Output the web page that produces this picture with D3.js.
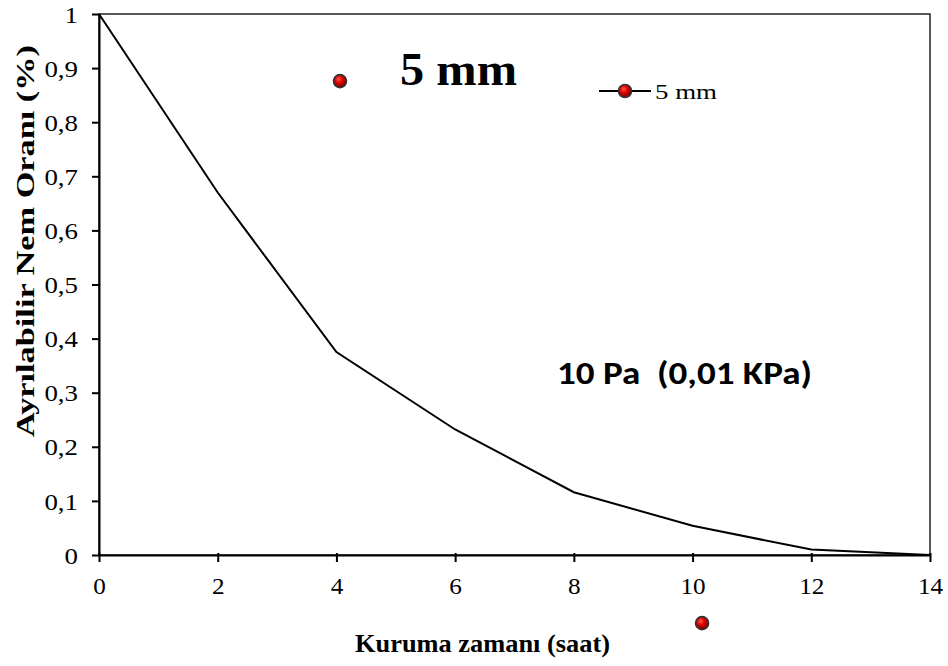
<!DOCTYPE html>
<html><head><meta charset="utf-8">
<script src="https://cdn.jsdelivr.net/npm/d3@7"></script>
<style>body{margin:0;background:#fff}</style>
</head><body>
<script>
const hours = [0, 2, 4, 6, 8, 10, 12, 14];
const moistureRatio = [1, 0.67, 0.375, 0.232, 0.116, 0.054, 0.01, 0];
const xTicks = [0, 2, 4, 6, 8, 10, 12, 14];
const yTicks = [0, 0.1, 0.2, 0.3, 0.4, 0.5, 0.6, 0.7, 0.8, 0.9, 1];
const strayMarkersX = [4.06, 10.16];
const strayMarkersY = [0.876, -0.126];
const seriesName = "5 mm";

const W = 948, H = 666;
const m = {left: 99, top: 14, right: 930, bottom: 555};
const svg = d3.select("body").append("svg").attr("width", W).attr("height", H);
const defs = svg.append("defs");
const g = defs.append("radialGradient").attr("id","ball").attr("cx","40%").attr("cy","35%").attr("r","65%");
g.append("stop").attr("offset","0%").attr("stop-color","#ff5a4a");
g.append("stop").attr("offset","45%").attr("stop-color","#e00000");
g.append("stop").attr("offset","100%").attr("stop-color","#7a0000");

const x = d3.scaleLinear().domain([0,14]).range([m.left, m.right]);
const y = d3.scaleLinear().domain([0,1]).range([m.bottom, m.top]);

// frame
svg.append("rect").attr("x", m.left).attr("y", m.top).attr("width", m.right-m.left).attr("height", m.bottom-m.top)
  .attr("fill","none").attr("stroke","#000").attr("stroke-width",1.3);

const font = "'Liberation Serif','Times New Roman',serif";
const xa = svg.append("g").attr("transform",`translate(0,${m.bottom})`)
  .call(d3.axisBottom(x).tickValues(xTicks).tickSize(7).tickSizeOuter(0).tickFormat(d3.format("d")));
xa.select(".domain").attr("stroke-width",2);
xa.selectAll(".tick line").attr("stroke-width",2).attr("y1",-2);
xa.selectAll("text").attr("font-family",font).attr("font-size",24).attr("y",0).attr("dy",0)
  .attr("transform","translate(0,39) scale(1.05,1)").attr("fill","#000");

const ya = svg.append("g").attr("transform",`translate(${m.left},0)`)
  .call(d3.axisLeft(y).tickValues(yTicks).tickSize(7).tickSizeOuter(0).tickFormat(d => d3.format(".1~f")(d).replace(".",",")));
ya.select(".domain").attr("stroke-width",2);
ya.selectAll(".tick line").attr("stroke-width",2);
ya.selectAll("text").attr("font-family",font).attr("font-size",24).attr("x",0).attr("dy","0.34em")
  .attr("transform","translate(-21,0) scale(1.12,1)").attr("fill","#000");

// line
const data = hours.map((h,i)=>[h, moistureRatio[i]]);
svg.append("path").datum(data).attr("fill","none").attr("stroke","#000").attr("stroke-width",2)
  .attr("d", d3.line().x(d=>x(d[0])).y(d=>y(d[1])));

function marker(cx, cy){
  svg.append("circle").attr("cx",cx).attr("cy",cy).attr("r",6.5)
    .attr("fill","url(#ball)").attr("stroke","#333").attr("stroke-width",1.6);
}
strayMarkersX.forEach((v,i)=>marker(x(v), y(strayMarkersY[i])));

// legend
svg.append("line").attr("x1",599).attr("x2",651).attr("y1",91).attr("y2",91).attr("stroke","#000").attr("stroke-width",2);
marker(625, 91);
svg.append("text").attr("x",655).attr("y",99).attr("font-family",font).attr("font-size",21)
  .attr("textLength",62).attr("lengthAdjust","spacingAndGlyphs").text(seriesName);

// annotations
svg.append("text").attr("x",400).attr("y",85).attr("font-family",font).attr("font-weight","bold").attr("font-size",47)
  .attr("textLength",117).attr("lengthAdjust","spacingAndGlyphs").text(seriesName);
svg.append("text").attr("x",557).attr("y",384).attr("font-family","Carlito, Lato, 'Open Sans', sans-serif").attr("font-weight","bold").attr("font-size",32)
  .attr("textLength",255).attr("lengthAdjust","spacingAndGlyphs").attr("xml:space","preserve").style("white-space","pre").text("10 Pa  (0,01 KPa)");

// axis titles
svg.append("text").attr("x",355).attr("y",652)
  .attr("font-family",font).attr("font-weight","bold").attr("font-size",25)
  .attr("textLength",255).attr("lengthAdjust","spacingAndGlyphs").text("Kuruma zamanı (saat)");
svg.append("text").attr("transform",`translate(34,437) rotate(-90)`)
  .attr("font-family",font).attr("font-weight","bold").attr("font-size",26)
  .attr("textLength",392).attr("lengthAdjust","spacingAndGlyphs").text("Ayrılabilir Nem Oranı (%)");
</script>
</body></html>
